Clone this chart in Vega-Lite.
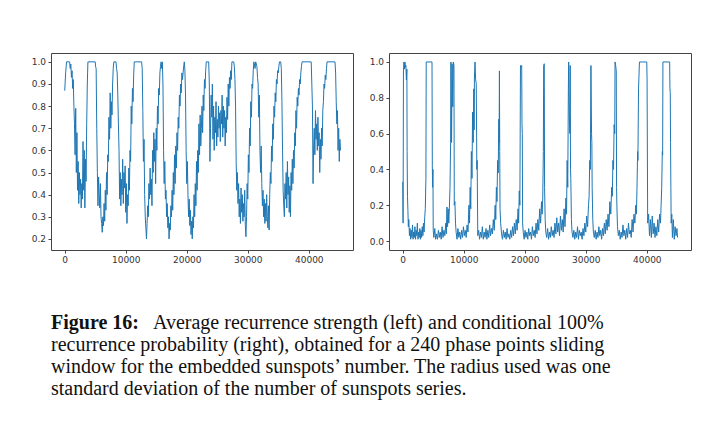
{
 "$schema": "https://vega.github.io/schema/vega-lite/v6.json",
 "background": "white",
 "padding": {"left": 30, "top": 52, "right": 5, "bottom": 5},
 "datasets": {
  "rs": [
{"t":0,"v":0.87},{"t":150,"v":0.95},{"t":300,"v":1.0},{"t":800,"v":1.0},{"t":900,"v":0.97},{"t":1000,"v":0.99},{"t":1100,"v":0.93},{"t":1200,"v":0.96},{"t":1300,"v":0.88},{"t":1400,"v":0.92},{"t":1500,"v":0.8},{"t":1600,"v":0.72},{"t":1700,"v":0.58},{"t":1800,"v":0.79},{"t":1900,"v":0.5},{"t":2000,"v":0.68},{"t":2100,"v":0.42},{"t":2200,"v":0.55},{"t":2300,"v":0.36},{"t":2400,"v":0.5},{"t":2500,"v":0.4},{"t":2600,"v":0.47},{"t":2700,"v":0.34},{"t":2800,"v":0.45},{"t":2900,"v":0.38},{"t":3000,"v":0.64},{"t":3100,"v":0.42},{"t":3200,"v":0.6},{"t":3300,"v":0.34},{"t":3400,"v":0.56},{"t":3500,"v":0.46},{"t":3600,"v":0.72},{"t":3700,"v":0.9},{"t":3750,"v":0.95},{"t":3800,"v":1.0},{"t":5000,"v":1.0},{"t":5050,"v":0.98},{"t":5150,"v":0.97},{"t":5250,"v":0.7},{"t":5350,"v":0.5},{"t":5450,"v":0.35},{"t":5550,"v":0.48},{"t":5650,"v":0.4},{"t":5750,"v":0.34},{"t":5850,"v":0.45},{"t":5950,"v":0.3},{"t":6050,"v":0.27},{"t":6150,"v":0.23},{"t":6250,"v":0.3},{"t":6350,"v":0.26},{"t":6450,"v":0.36},{"t":6550,"v":0.28},{"t":6650,"v":0.42},{"t":6750,"v":0.33},{"t":6850,"v":0.5},{"t":6950,"v":0.4},{"t":7050,"v":0.58},{"t":7150,"v":0.55},{"t":7250,"v":0.75},{"t":7350,"v":0.65},{"t":7450,"v":0.86},{"t":7550,"v":0.7},{"t":7650,"v":0.82},{"t":7750,"v":0.76},{"t":7850,"v":0.9},{"t":7950,"v":0.97},{"t":8050,"v":1.0},{"t":8400,"v":1.0},{"t":8500,"v":0.97},{"t":8600,"v":0.95},{"t":8700,"v":0.85},{"t":8800,"v":0.72},{"t":8900,"v":0.6},{"t":9000,"v":0.38},{"t":9100,"v":0.5},{"t":9200,"v":0.35},{"t":9300,"v":0.47},{"t":9400,"v":0.4},{"t":9500,"v":0.56},{"t":9600,"v":0.36},{"t":9700,"v":0.5},{"t":9800,"v":0.43},{"t":9900,"v":0.53},{"t":10000,"v":0.32},{"t":10100,"v":0.45},{"t":10200,"v":0.27},{"t":10300,"v":0.4},{"t":10400,"v":0.35},{"t":10500,"v":0.52},{"t":10600,"v":0.42},{"t":10700,"v":0.6},{"t":10800,"v":0.55},{"t":10900,"v":0.8},{"t":11000,"v":0.72},{"t":11100,"v":0.88},{"t":11200,"v":0.82},{"t":11300,"v":0.94},{"t":11400,"v":1.0},{"t":12600,"v":1.0},{"t":12700,"v":0.97},{"t":12800,"v":0.78},{"t":12900,"v":0.55},{"t":13000,"v":0.65},{"t":13100,"v":0.4},{"t":13200,"v":0.3},{"t":13300,"v":0.25},{"t":13400,"v":0.2},{"t":13500,"v":0.27},{"t":13600,"v":0.35},{"t":13700,"v":0.3},{"t":13800,"v":0.45},{"t":13900,"v":0.38},{"t":14000,"v":0.52},{"t":14100,"v":0.4},{"t":14200,"v":0.47},{"t":14300,"v":0.35},{"t":14400,"v":0.6},{"t":14500,"v":0.5},{"t":14600,"v":0.68},{"t":14700,"v":0.55},{"t":14800,"v":0.65},{"t":14900,"v":0.45},{"t":15000,"v":0.7},{"t":15100,"v":0.6},{"t":15200,"v":0.8},{"t":15300,"v":0.72},{"t":15400,"v":0.88},{"t":15500,"v":0.85},{"t":15600,"v":0.95},{"t":15700,"v":0.98},{"t":15800,"v":1.0},{"t":15900,"v":0.97},{"t":16000,"v":1.0},{"t":16100,"v":0.9},{"t":16200,"v":0.6},{"t":16300,"v":0.45},{"t":16400,"v":0.55},{"t":16500,"v":0.38},{"t":16600,"v":0.42},{"t":16700,"v":0.3},{"t":16800,"v":0.36},{"t":16900,"v":0.25},{"t":17000,"v":0.3},{"t":17100,"v":0.2},{"t":17200,"v":0.27},{"t":17300,"v":0.24},{"t":17400,"v":0.35},{"t":17500,"v":0.3},{"t":17600,"v":0.42},{"t":17700,"v":0.33},{"t":17800,"v":0.5},{"t":17900,"v":0.4},{"t":18000,"v":0.58},{"t":18100,"v":0.45},{"t":18200,"v":0.62},{"t":18300,"v":0.52},{"t":18400,"v":0.68},{"t":18500,"v":0.6},{"t":18600,"v":0.75},{"t":18700,"v":0.7},{"t":18800,"v":0.85},{"t":18900,"v":0.8},{"t":19000,"v":0.9},{"t":19100,"v":0.86},{"t":19200,"v":0.95},{"t":19300,"v":0.92},{"t":19500,"v":0.98},{"t":19600,"v":1.0},{"t":19700,"v":0.96},{"t":19800,"v":0.85},{"t":19900,"v":0.6},{"t":20000,"v":0.45},{"t":20100,"v":0.55},{"t":20200,"v":0.4},{"t":20300,"v":0.3},{"t":20400,"v":0.38},{"t":20500,"v":0.26},{"t":20600,"v":0.33},{"t":20700,"v":0.22},{"t":20800,"v":0.28},{"t":20900,"v":0.2},{"t":21000,"v":0.3},{"t":21100,"v":0.25},{"t":21200,"v":0.4},{"t":21300,"v":0.3},{"t":21400,"v":0.45},{"t":21500,"v":0.35},{"t":21600,"v":0.55},{"t":21700,"v":0.42},{"t":21800,"v":0.6},{"t":21900,"v":0.5},{"t":22000,"v":0.72},{"t":22100,"v":0.58},{"t":22200,"v":0.76},{"t":22300,"v":0.62},{"t":22400,"v":0.7},{"t":22500,"v":0.8},{"t":22600,"v":0.68},{"t":22700,"v":0.85},{"t":22800,"v":0.78},{"t":22900,"v":0.92},{"t":23000,"v":0.88},{"t":23100,"v":0.96},{"t":23200,"v":1.0},{"t":23600,"v":1.0},{"t":23700,"v":0.9},{"t":23800,"v":0.55},{"t":23900,"v":0.7},{"t":24000,"v":0.85},{"t":24100,"v":0.75},{"t":24200,"v":0.9},{"t":24300,"v":0.65},{"t":24400,"v":0.8},{"t":24500,"v":0.6},{"t":24600,"v":0.75},{"t":24700,"v":0.68},{"t":24800,"v":0.82},{"t":24900,"v":0.62},{"t":25000,"v":0.74},{"t":25100,"v":0.66},{"t":25200,"v":0.8},{"t":25300,"v":0.7},{"t":25400,"v":0.77},{"t":25500,"v":0.64},{"t":25600,"v":0.78},{"t":25700,"v":0.72},{"t":25800,"v":0.85},{"t":25900,"v":0.66},{"t":26000,"v":0.8},{"t":26100,"v":0.7},{"t":26200,"v":0.78},{"t":26300,"v":0.62},{"t":26400,"v":0.75},{"t":26500,"v":0.68},{"t":26600,"v":0.84},{"t":26700,"v":0.74},{"t":26800,"v":0.9},{"t":26900,"v":0.8},{"t":27000,"v":0.93},{"t":27100,"v":0.88},{"t":27200,"v":0.96},{"t":27300,"v":0.92},{"t":27400,"v":1.0},{"t":27700,"v":1.0},{"t":27800,"v":0.98},{"t":27900,"v":0.92},{"t":28000,"v":0.8},{"t":28100,"v":0.55},{"t":28200,"v":0.42},{"t":28300,"v":0.5},{"t":28400,"v":0.36},{"t":28500,"v":0.45},{"t":28600,"v":0.3},{"t":28700,"v":0.38},{"t":28800,"v":0.27},{"t":28900,"v":0.43},{"t":29000,"v":0.32},{"t":29100,"v":0.4},{"t":29200,"v":0.28},{"t":29300,"v":0.36},{"t":29400,"v":0.3},{"t":29500,"v":0.42},{"t":29600,"v":0.26},{"t":29700,"v":0.21},{"t":29800,"v":0.3},{"t":29900,"v":0.45},{"t":30000,"v":0.38},{"t":30100,"v":0.58},{"t":30200,"v":0.5},{"t":30300,"v":0.7},{"t":30400,"v":0.62},{"t":30500,"v":0.82},{"t":30600,"v":0.75},{"t":30700,"v":0.9},{"t":30800,"v":0.88},{"t":30900,"v":0.96},{"t":31000,"v":1.0},{"t":31200,"v":0.97},{"t":31300,"v":1.0},{"t":31500,"v":0.98},{"t":31600,"v":0.93},{"t":31700,"v":0.9},{"t":31800,"v":0.75},{"t":31900,"v":0.85},{"t":32000,"v":0.6},{"t":32100,"v":0.5},{"t":32200,"v":0.62},{"t":32300,"v":0.45},{"t":32400,"v":0.35},{"t":32500,"v":0.42},{"t":32600,"v":0.3},{"t":32700,"v":0.38},{"t":32800,"v":0.27},{"t":32900,"v":0.36},{"t":33000,"v":0.28},{"t":33100,"v":0.4},{"t":33200,"v":0.3},{"t":33300,"v":0.25},{"t":33400,"v":0.35},{"t":33500,"v":0.24},{"t":33600,"v":0.4},{"t":33700,"v":0.5},{"t":33800,"v":0.45},{"t":33900,"v":0.62},{"t":34000,"v":0.55},{"t":34100,"v":0.72},{"t":34200,"v":0.65},{"t":34300,"v":0.8},{"t":34400,"v":0.75},{"t":34500,"v":0.86},{"t":34600,"v":0.82},{"t":34700,"v":0.92},{"t":34800,"v":0.9},{"t":34900,"v":0.96},{"t":35000,"v":0.95},{"t":35100,"v":0.98},{"t":35200,"v":1.0},{"t":35400,"v":1.0},{"t":35500,"v":0.97},{"t":35600,"v":0.82},{"t":35700,"v":0.6},{"t":35800,"v":0.42},{"t":35900,"v":0.35},{"t":36000,"v":0.3},{"t":36100,"v":0.45},{"t":36200,"v":0.38},{"t":36300,"v":0.5},{"t":36400,"v":0.34},{"t":36500,"v":0.55},{"t":36600,"v":0.4},{"t":36700,"v":0.48},{"t":36800,"v":0.32},{"t":36900,"v":0.44},{"t":37000,"v":0.3},{"t":37100,"v":0.5},{"t":37200,"v":0.42},{"t":37300,"v":0.56},{"t":37400,"v":0.45},{"t":37500,"v":0.6},{"t":37600,"v":0.52},{"t":37700,"v":0.68},{"t":37800,"v":0.62},{"t":37900,"v":0.78},{"t":38000,"v":0.7},{"t":38100,"v":0.84},{"t":38200,"v":0.8},{"t":38300,"v":0.88},{"t":38400,"v":0.85},{"t":38500,"v":0.92},{"t":38600,"v":0.9},{"t":38700,"v":0.95},{"t":38800,"v":0.98},{"t":38900,"v":1.0},{"t":40400,"v":1.0},{"t":40500,"v":0.9},{"t":40600,"v":0.8},{"t":40700,"v":0.45},{"t":40800,"v":0.62},{"t":40900,"v":0.7},{"t":41000,"v":0.58},{"t":41100,"v":0.78},{"t":41200,"v":0.65},{"t":41300,"v":0.72},{"t":41400,"v":0.6},{"t":41500,"v":0.75},{"t":41600,"v":0.62},{"t":41700,"v":0.68},{"t":41800,"v":0.5},{"t":41900,"v":0.65},{"t":42000,"v":0.56},{"t":42100,"v":0.7},{"t":42200,"v":0.62},{"t":42300,"v":0.78},{"t":42400,"v":0.82},{"t":42500,"v":0.9},{"t":42600,"v":0.88},{"t":42700,"v":0.94},{"t":42800,"v":0.92},{"t":42900,"v":0.97},{"t":43000,"v":1.0},{"t":44300,"v":1.0},{"t":44400,"v":0.95},{"t":44500,"v":0.82},{"t":44600,"v":0.72},{"t":44700,"v":0.78},{"t":44800,"v":0.6},{"t":44900,"v":0.7},{"t":45000,"v":0.55},{"t":45100,"v":0.65},{"t":45200,"v":0.6}
  ],
  "rp": [
{"t":0,"v":0.33},{"t":60,"v":0.1},{"t":120,"v":0.95},{"t":200,"v":1.0},{"t":280,"v":0.96},{"t":360,"v":1.0},{"t":440,"v":0.97},{"t":520,"v":0.98},{"t":600,"v":0.9},{"t":680,"v":0.96},{"t":720,"v":0.5},{"t":780,"v":0.25},{"t":850,"v":0.17},{"t":920,"v":0.08},{"t":1000,"v":0.12},{"t":1100,"v":0.03},{"t":1200,"v":0.07},{"t":1300,"v":0.01},{"t":1400,"v":0.06},{"t":1500,"v":0.02},{"t":1600,"v":0.09},{"t":1700,"v":0.01},{"t":1800,"v":0.05},{"t":1900,"v":0.02},{"t":2000,"v":0.08},{"t":2100,"v":0.01},{"t":2200,"v":0.06},{"t":2300,"v":0.03},{"t":2400,"v":0.1},{"t":2500,"v":0.01},{"t":2600,"v":0.05},{"t":2700,"v":0.02},{"t":2800,"v":0.07},{"t":2900,"v":0.01},{"t":3000,"v":0.06},{"t":3100,"v":0.02},{"t":3200,"v":0.08},{"t":3300,"v":0.03},{"t":3400,"v":0.1},{"t":3500,"v":0.05},{"t":3600,"v":0.13},{"t":3700,"v":0.18},{"t":3800,"v":0.35},{"t":3850,"v":1.0},{"t":4800,"v":1.0},{"t":4850,"v":0.42},{"t":4900,"v":0.3},{"t":4950,"v":0.4},{"t":5000,"v":0.06},{"t":5100,"v":0.02},{"t":5250,"v":0.07},{"t":5400,"v":0.01},{"t":5550,"v":0.04},{"t":5700,"v":0.01},{"t":5850,"v":0.06},{"t":6000,"v":0.02},{"t":6150,"v":0.05},{"t":6300,"v":0.01},{"t":6450,"v":0.08},{"t":6600,"v":0.02},{"t":6750,"v":0.06},{"t":6900,"v":0.03},{"t":7050,"v":0.1},{"t":7150,"v":0.04},{"t":7250,"v":0.19},{"t":7350,"v":0.08},{"t":7450,"v":0.18},{"t":7550,"v":0.1},{"t":7650,"v":0.19},{"t":7750,"v":0.3},{"t":7850,"v":0.55},{"t":7900,"v":1.0},{"t":8000,"v":0.55},{"t":8100,"v":0.99},{"t":8200,"v":0.75},{"t":8300,"v":1.0},{"t":8400,"v":0.98},{"t":8450,"v":0.2},{"t":8550,"v":0.22},{"t":8650,"v":0.1},{"t":8750,"v":0.05},{"t":8900,"v":0.01},{"t":9050,"v":0.07},{"t":9200,"v":0.02},{"t":9350,"v":0.05},{"t":9500,"v":0.01},{"t":9650,"v":0.06},{"t":9800,"v":0.02},{"t":9950,"v":0.08},{"t":10100,"v":0.03},{"t":10250,"v":0.06},{"t":10400,"v":0.02},{"t":10550,"v":0.09},{"t":10700,"v":0.05},{"t":10850,"v":0.2},{"t":10950,"v":0.1},{"t":11050,"v":0.3},{"t":11150,"v":0.18},{"t":11250,"v":0.5},{"t":11350,"v":0.35},{"t":11450,"v":0.72},{"t":11550,"v":0.55},{"t":11650,"v":0.85},{"t":11700,"v":0.62},{"t":11750,"v":0.91},{"t":11850,"v":1.0},{"t":11950,"v":0.9},{"t":12050,"v":0.88},{"t":12150,"v":0.4},{"t":12200,"v":0.45},{"t":12300,"v":0.03},{"t":12450,"v":0.06},{"t":12600,"v":0.01},{"t":12750,"v":0.05},{"t":12900,"v":0.02},{"t":13050,"v":0.08},{"t":13200,"v":0.01},{"t":13350,"v":0.05},{"t":13500,"v":0.02},{"t":13650,"v":0.07},{"t":13800,"v":0.01},{"t":13950,"v":0.06},{"t":14100,"v":0.02},{"t":14250,"v":0.09},{"t":14400,"v":0.03},{"t":14550,"v":0.07},{"t":14700,"v":0.04},{"t":14850,"v":0.12},{"t":15000,"v":0.06},{"t":15150,"v":0.2},{"t":15250,"v":0.12},{"t":15350,"v":0.3},{"t":15450,"v":0.22},{"t":15550,"v":0.45},{"t":15650,"v":0.38},{"t":15750,"v":0.68},{"t":15800,"v":0.55},{"t":15850,"v":0.95},{"t":15900,"v":0.5},{"t":15950,"v":0.18},{"t":16050,"v":0.1},{"t":16200,"v":0.04},{"t":16350,"v":0.01},{"t":16500,"v":0.06},{"t":16650,"v":0.02},{"t":16800,"v":0.05},{"t":16950,"v":0.01},{"t":17100,"v":0.07},{"t":17250,"v":0.02},{"t":17400,"v":0.04},{"t":17550,"v":0.01},{"t":17700,"v":0.06},{"t":17850,"v":0.02},{"t":18000,"v":0.08},{"t":18150,"v":0.03},{"t":18300,"v":0.1},{"t":18450,"v":0.04},{"t":18600,"v":0.12},{"t":18750,"v":0.06},{"t":18900,"v":0.18},{"t":19000,"v":0.1},{"t":19100,"v":0.28},{"t":19200,"v":0.2},{"t":19300,"v":0.98},{"t":19400,"v":0.97},{"t":19500,"v":0.98},{"t":19550,"v":0.65},{"t":19600,"v":0.6},{"t":19650,"v":0.1},{"t":19750,"v":0.05},{"t":19900,"v":0.01},{"t":20050,"v":0.06},{"t":20200,"v":0.02},{"t":20350,"v":0.05},{"t":20500,"v":0.01},{"t":20650,"v":0.07},{"t":20800,"v":0.03},{"t":20950,"v":0.05},{"t":21100,"v":0.01},{"t":21250,"v":0.08},{"t":21400,"v":0.03},{"t":21550,"v":0.06},{"t":21700,"v":0.02},{"t":21850,"v":0.1},{"t":22000,"v":0.04},{"t":22150,"v":0.12},{"t":22300,"v":0.06},{"t":22450,"v":0.18},{"t":22600,"v":0.1},{"t":22750,"v":0.22},{"t":22850,"v":0.15},{"t":22950,"v":0.24},{"t":23050,"v":0.5},{"t":23100,"v":0.98},{"t":23200,"v":0.99},{"t":23250,"v":0.3},{"t":23350,"v":0.12},{"t":23450,"v":0.05},{"t":23600,"v":0.02},{"t":23750,"v":0.07},{"t":23900,"v":0.01},{"t":24050,"v":0.05},{"t":24200,"v":0.02},{"t":24350,"v":0.08},{"t":24500,"v":0.03},{"t":24650,"v":0.06},{"t":24800,"v":0.02},{"t":24950,"v":0.1},{"t":25100,"v":0.04},{"t":25250,"v":0.13},{"t":25400,"v":0.05},{"t":25550,"v":0.1},{"t":25700,"v":0.03},{"t":25850,"v":0.14},{"t":26000,"v":0.06},{"t":26150,"v":0.12},{"t":26300,"v":0.05},{"t":26450,"v":0.18},{"t":26600,"v":0.08},{"t":26750,"v":0.24},{"t":26850,"v":0.15},{"t":26950,"v":0.45},{"t":27050,"v":0.3},{"t":27150,"v":0.85},{"t":27200,"v":1.0},{"t":27300,"v":0.7},{"t":27400,"v":0.6},{"t":27450,"v":0.98},{"t":27500,"v":0.4},{"t":27550,"v":0.35},{"t":27650,"v":0.12},{"t":27750,"v":0.05},{"t":27900,"v":0.02},{"t":28050,"v":0.06},{"t":28200,"v":0.01},{"t":28350,"v":0.05},{"t":28500,"v":0.02},{"t":28650,"v":0.08},{"t":28800,"v":0.01},{"t":28950,"v":0.06},{"t":29100,"v":0.03},{"t":29250,"v":0.05},{"t":29400,"v":0.01},{"t":29550,"v":0.07},{"t":29700,"v":0.03},{"t":29850,"v":0.1},{"t":30000,"v":0.05},{"t":30150,"v":0.14},{"t":30300,"v":0.08},{"t":30450,"v":0.2},{"t":30550,"v":0.25},{"t":30650,"v":0.45},{"t":30750,"v":0.4},{"t":30850,"v":0.98},{"t":30950,"v":0.6},{"t":31000,"v":0.55},{"t":31050,"v":0.3},{"t":31150,"v":0.12},{"t":31250,"v":0.05},{"t":31400,"v":0.02},{"t":31550,"v":0.06},{"t":31700,"v":0.01},{"t":31850,"v":0.05},{"t":32000,"v":0.02},{"t":32150,"v":0.08},{"t":32300,"v":0.03},{"t":32450,"v":0.06},{"t":32600,"v":0.01},{"t":32750,"v":0.07},{"t":32900,"v":0.03},{"t":33050,"v":0.1},{"t":33200,"v":0.04},{"t":33350,"v":0.12},{"t":33500,"v":0.06},{"t":33650,"v":0.15},{"t":33800,"v":0.08},{"t":33950,"v":0.22},{"t":34100,"v":0.15},{"t":34250,"v":0.3},{"t":34350,"v":0.25},{"t":34450,"v":0.45},{"t":34550,"v":0.4},{"t":34650,"v":0.65},{"t":34750,"v":0.6},{"t":34800,"v":1.0},{"t":34900,"v":0.98},{"t":35000,"v":0.95},{"t":35050,"v":0.3},{"t":35100,"v":0.2},{"t":35200,"v":0.08},{"t":35350,"v":0.03},{"t":35500,"v":0.06},{"t":35650,"v":0.01},{"t":35800,"v":0.05},{"t":35950,"v":0.02},{"t":36100,"v":0.09},{"t":36250,"v":0.03},{"t":36400,"v":0.06},{"t":36550,"v":0.01},{"t":36700,"v":0.07},{"t":36850,"v":0.02},{"t":37000,"v":0.1},{"t":37150,"v":0.04},{"t":37300,"v":0.06},{"t":37450,"v":0.02},{"t":37600,"v":0.12},{"t":37750,"v":0.05},{"t":37900,"v":0.15},{"t":38050,"v":0.1},{"t":38200,"v":0.2},{"t":38300,"v":0.15},{"t":38400,"v":0.3},{"t":38500,"v":0.5},{"t":38550,"v":0.45},{"t":38650,"v":0.85},{"t":38700,"v":0.9},{"t":38800,"v":1.0},{"t":40000,"v":1.0},{"t":40050,"v":0.9},{"t":40150,"v":0.1},{"t":40300,"v":0.15},{"t":40450,"v":0.03},{"t":40600,"v":0.12},{"t":40750,"v":0.02},{"t":40900,"v":0.14},{"t":41050,"v":0.04},{"t":41200,"v":0.1},{"t":41350,"v":0.02},{"t":41500,"v":0.08},{"t":41650,"v":0.03},{"t":41800,"v":0.12},{"t":41950,"v":0.05},{"t":42100,"v":0.15},{"t":42250,"v":0.1},{"t":42350,"v":0.2},{"t":42450,"v":0.3},{"t":42550,"v":0.5},{"t":42600,"v":0.48},{"t":42650,"v":1.0},{"t":43750,"v":1.0},{"t":43800,"v":0.85},{"t":43850,"v":0.83},{"t":43900,"v":0.55},{"t":43950,"v":0.3},{"t":44000,"v":0.1},{"t":44100,"v":0.15},{"t":44200,"v":0.02},{"t":44350,"v":0.12},{"t":44500,"v":0.01},{"t":44650,"v":0.08},{"t":44800,"v":0.03},{"t":44950,"v":0.07},{"t":45050,"v":0.02}
  ],
  "cap": [
   {"line": 1, "part": "head", "text": "Figure 16:"},
   {"line": 1, "part": "lead", "text": "Average recurrence strength (left) and conditional 100%"},
   {"line": 2, "part": "body", "text": "recurrence probability (right), obtained for a 240 phase points sliding"},
   {"line": 3, "part": "body", "text": "window for the embedded sunspots’ number. The radius used was one"},
   {"line": 4, "part": "body", "text": "standard deviation of the number of sunspots series."}
  ]
 },
 "config": {
  "view": {"stroke": "#444", "strokeWidth": 1},
  "axis": {"domain": false, "grid": false, "title": null, "labelFont": "DejaVu Sans", "labelFontSize": 9, "labelColor": "#333", "tickColor": "#444", "tickSize": 3, "labelPadding": 2.5}
 },
 "spacing": 48,
 "vconcat": [
  {
   "spacing": 14,
   "hconcat": [
    {
     "width": 302, "height": 197,
     "data": {"name": "rs"},
     "mark": {"type": "line", "color": "#1f77b4", "strokeWidth": 1},
     "encoding": {
      "x": {"field": "t", "type": "quantitative", "scale": {"domain": [-2250, 47250], "nice": false, "zero": false}, "axis": {"values": [0, 10000, 20000, 30000, 40000], "format": "d"}},
      "y": {"field": "v", "type": "quantitative", "scale": {"domain": [0.15, 1.04], "nice": false, "zero": false}, "axis": {"values": [0.2, 0.3, 0.4, 0.5, 0.6, 0.7, 0.8, 0.9, 1.0], "format": ".1f"}}
     }
    },
    {
     "width": 302, "height": 197,
     "data": {"name": "rp"},
     "mark": {"type": "line", "color": "#1f77b4", "strokeWidth": 1},
     "encoding": {
      "x": {"field": "t", "type": "quantitative", "scale": {"domain": [-2250, 47250], "nice": false, "zero": false}, "axis": {"values": [0, 10000, 20000, 30000, 40000], "format": "d"}},
      "y": {"field": "v", "type": "quantitative", "scale": {"domain": [-0.05, 1.05], "nice": false, "zero": false}, "axis": {"values": [0.0, 0.2, 0.4, 0.6, 0.8, 1.0], "format": ".1f"}}
     }
    }
   ]
  },
  {
   "width": 662,
   "height": {"step": 22},
   "view": {"stroke": null},
   "data": {"name": "cap"},
   "encoding": {
    "y": {"field": "line", "type": "ordinal", "axis": null},
    "x": {"value": 0},
    "text": {"field": "text"}
   },
   "layer": [
    {"transform": [{"filter": "datum.part == 'head'"}], "mark": {"type": "text", "align": "left", "baseline": "alphabetic", "font": "Liberation Serif", "fontSize": 20, "fontWeight": "bold", "color": "#111"}},
    {"transform": [{"filter": "datum.part == 'lead'"}], "mark": {"type": "text", "align": "left", "baseline": "alphabetic", "font": "Liberation Serif", "fontSize": 20, "color": "#111", "dx": 102}},
    {"transform": [{"filter": "datum.part == 'body'"}], "mark": {"type": "text", "align": "left", "baseline": "alphabetic", "font": "Liberation Serif", "fontSize": 20, "color": "#111"}}
   ]
  }
 ]
}
